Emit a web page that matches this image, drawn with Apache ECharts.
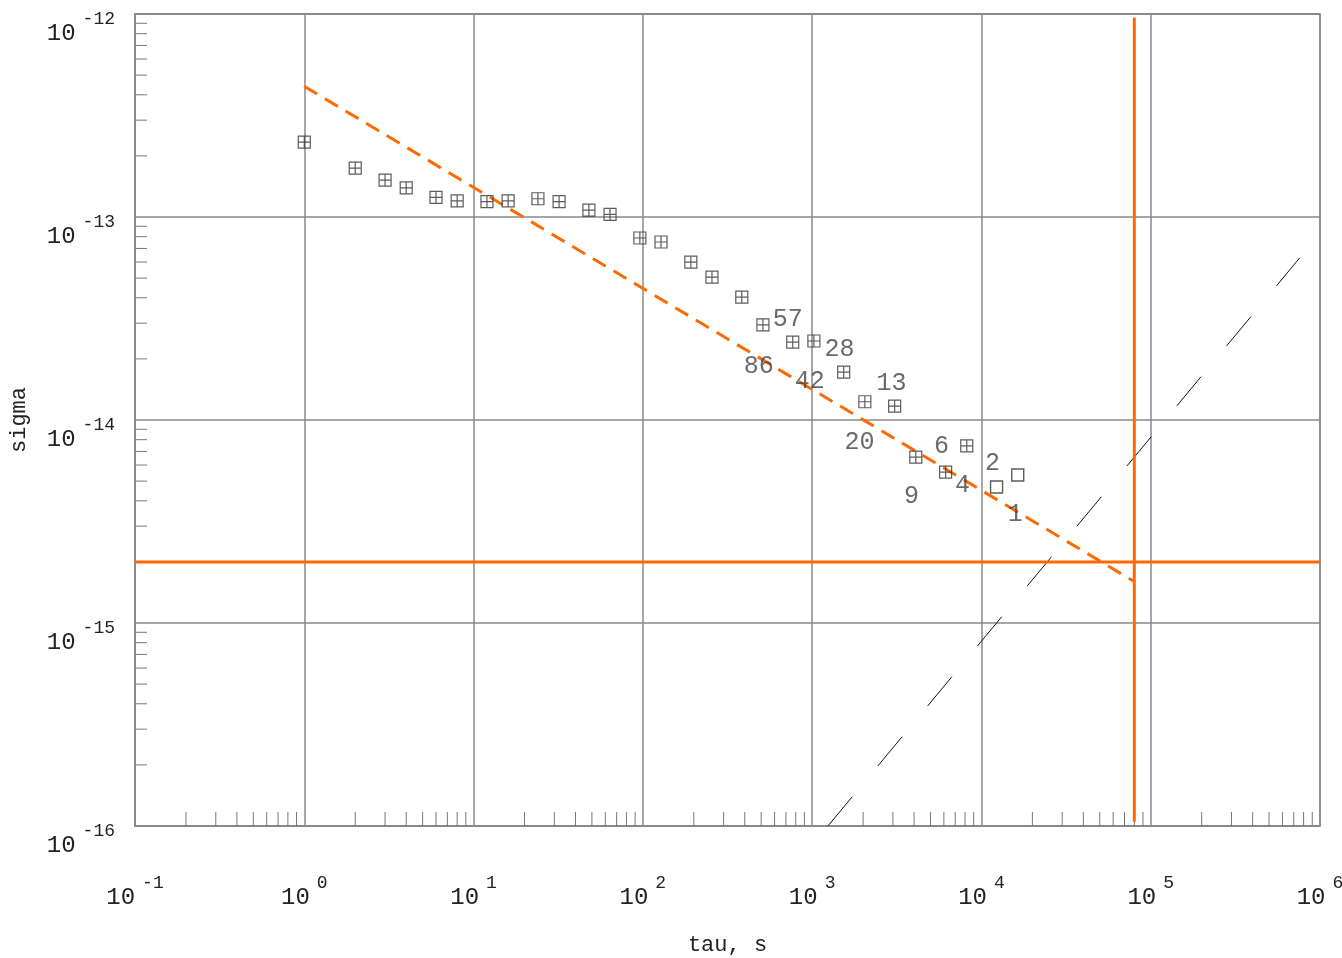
<!DOCTYPE html>
<html lang="en">
<head>
<meta charset="UTF-8">
<title>sigma vs tau</title>
<script src="https://cdn.jsdelivr.net/npm/echarts@6/dist/echarts.min.js"></script>
<style>html,body{margin:0;padding:0;background:#fff}</style>
</head>
<body>
<div id="main" style="width:1342px;height:958px;"></div>
<script>
// averaging time tau (s) and measured sigma, crossed-square points
var tauValues = [1, 2, 3, 4, 6, 8, 12, 16, 24, 32, 48, 64, 96, 128, 192, 256, 384, 512, 768, 1024, 1536, 2048, 3072, 4096, 6144, 8192];
var sigmaValues = [2.34e-13, 1.74e-13, 1.52e-13, 1.39e-13, 1.25e-13, 1.20e-13, 1.19e-13, 1.20e-13, 1.23e-13, 1.19e-13, 1.08e-13, 1.03e-13,
    7.88e-14, 7.53e-14, 6.00e-14, 5.06e-14, 4.03e-14, 2.94e-14, 2.42e-14, 2.45e-14, 1.72e-14, 1.23e-14, 1.17e-14, 6.57e-15, 5.54e-15, 7.45e-15];
// last points, plain squares
var tauPlain = [12288, 16384];
var sigmaPlain = [4.68e-15, 5.36e-15];

// number annotations near the points
var countText = ['57', '28', '86', '42', '13', '20', '6', '9', '4', '2', '1'];
var countTau = [717, 1452, 483, 967, 2944, 1906, 5808, 3864, 7727, 11620, 15850];
var countSigma = [3.13e-14, 2.23e-14, 1.84e-14, 1.55e-14, 1.51e-14, 7.76e-15, 7.41e-15, 4.2e-15, 4.75e-15, 6.1e-15, 3.42e-15];

// reference lines
var slopeTau = [1, 8e4];
var slopeSigma = [4.4e-13, 1.6e-15];
var floorSigma = 2e-15;
var floorTau = [0.1, 1e6];
var dayTau = 8e4;
var daySigma = [1.05e-16, 9.6e-13];
var driftTau = [1240, 7.6e5];
var driftSigma = [1e-16, 6.3e-14];

// minor tick positions (2..9 in each decade)
var minorX = [], minorY = [];
for (var k = -1; k < 6; k++) for (var m = 2; m < 10; m++) minorX.push(m * Math.pow(10, k));
for (var k2 = -16; k2 < -12; k2++) for (var m2 = 2; m2 < 10; m2++) minorY.push(m2 * Math.pow(10, k2));

var orange = '#ff6a00';
var ink = '#333';
var fontFam = '"Liberation Mono", "DejaVu Sans Mono", monospace';

function pair(xs, ys) {
    return xs.map(function (x, i) { return [x, ys[i]]; });
}

function powLabel(v) {
    var e = Math.round(Math.log10(v));
    return '{b|10}{s|' + (e < 0 ? '-' + (-e) : e) + '}';
}

var richLab = {
    b: {fontSize: 24, lineHeight: 36, verticalAlign: 'bottom', color: '#222', fontFamily: fontFam},
    s: {fontSize: 18, lineHeight: 18, verticalAlign: 'top', color: '#222', fontFamily: fontFam, padding: [0, 0, 0, 7]}
};

var myChart = echarts.init(document.getElementById('main'));

var option = {
    backgroundColor: '#fff',
    animation: false,
    grid: {left: 135, right: 22, top: 14, bottom: 132, outerBoundsMode: 'none', show: true, borderColor: '#888', borderWidth: 1.5},
    xAxis: {
        type: 'log', logBase: 10, min: 0.1, max: 1e6, interval: 1,
        name: 'tau, s', nameLocation: 'middle', nameGap: 108,
        nameTextStyle: {fontSize: 22, color: '#222', fontFamily: fontFam},
        axisLine: {lineStyle: {color: '#888', width: 1.5}},
        axisTick: {show: false},
        axisLabel: {formatter: powLabel, margin: 48, rich: richLab},
        splitLine: {show: true, lineStyle: {color: '#888', width: 1.5}}
    },
    yAxis: {
        type: 'log', logBase: 10, min: 1e-16, max: 1e-12, interval: 1,
        name: 'sigma', nameLocation: 'middle', nameGap: 105, nameRotate: 90,
        nameTextStyle: {fontSize: 22, color: '#222', fontFamily: fontFam},
        axisLine: {lineStyle: {color: '#888', width: 1.5}},
        axisTick: {show: false},
        axisLabel: {formatter: powLabel, margin: 20, rich: richLab, padding: [28, 0, 0, 0]},
        splitLine: {show: true, lineStyle: {color: '#888', width: 1.5}}
    },
    series: [
        {
            type: 'custom', silent: true, clip: false, z: 1,
            data: minorX.map(function (v) { return [v, 1e-16]; }),
            renderItem: function (params, api) {
                var p = api.coord([api.value(0), api.value(1)]);
                return {type: 'line', shape: {x1: p[0], y1: p[1], x2: p[0], y2: p[1] - 14}, style: {stroke: '#777', lineWidth: 1}};
            }
        },
        {
            type: 'custom', silent: true, clip: false, z: 1,
            data: minorY.map(function (v) { return [0.1, v]; }),
            renderItem: function (params, api) {
                var p = api.coord([api.value(0), api.value(1)]);
                return {type: 'line', shape: {x1: p[0], y1: p[1], x2: p[0] + 12, y2: p[1]}, style: {stroke: '#777', lineWidth: 1}};
            }
        },
        {
            type: 'line', silent: true, showSymbol: false, z: 3,
            data: pair(slopeTau, slopeSigma),
            lineStyle: {color: orange, width: 3, type: [15, 9]}
        },
        {
            type: 'line', silent: true, showSymbol: false, z: 3,
            data: pair(floorTau, [floorSigma, floorSigma]),
            lineStyle: {color: orange, width: 3}
        },
        {
            type: 'line', silent: true, showSymbol: false, z: 3,
            data: pair([dayTau, dayTau], daySigma),
            lineStyle: {color: orange, width: 3}
        },
        {
            type: 'line', silent: true, showSymbol: false, z: 2,
            data: pair(driftTau, driftSigma),
            lineStyle: {color: '#111', width: 1, type: [38, 40]}
        },
        {
            type: 'scatter', silent: true, z: 4,
            symbol: 'path://M0,0L12,0L12,12L0,12Z M6,0L6,12 M0,6L12,6',
            symbolSize: 12,
            itemStyle: {color: 'rgba(0,0,0,0)', borderColor: ink, borderWidth: 1.2},
            data: pair(tauValues, sigmaValues)
        },
        {
            type: 'scatter', silent: true, z: 4,
            symbol: 'rect', symbolSize: 12,
            itemStyle: {color: 'rgba(0,0,0,0)', borderColor: ink, borderWidth: 1.4},
            data: pair(tauPlain, sigmaPlain)
        },
        {
            type: 'scatter', silent: true, z: 5,
            symbolSize: 0,
            label: {
                show: true, position: 'inside', fontSize: 25, color: '#444', fontFamily: fontFam,
                formatter: function (p) { return p.name; }
            },
            data: countText.map(function (t, i) { return {name: t, value: [countTau[i], countSigma[i]]}; })
        }
    ]
};

myChart.setOption(option);
</script>
</body>
</html>
